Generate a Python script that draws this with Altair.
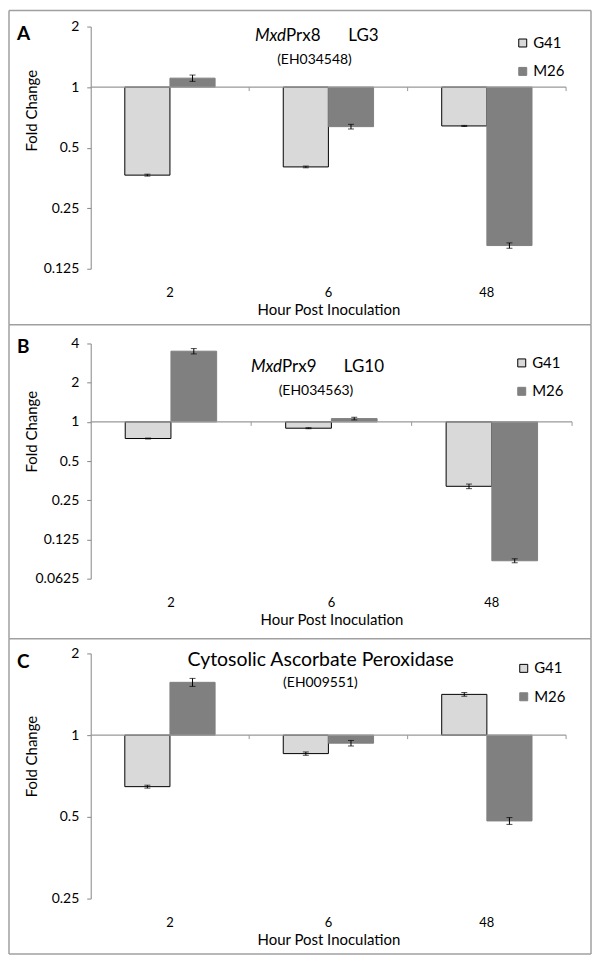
import math
import altair as alt
import pandas as pd

hours = ["2", "6", "48"]
lines = ["G41", "M26"]

# Panel A: MxdPrx8 LG3
a_g41 = [0.365, 0.401, 0.641]
a_m26 = [1.108, 0.636, 0.163]
a_g41_err = [0.004, 0.004, 0.004]
a_m26_err = [0.04, 0.017, 0.005]

# Panel B: MxdPrx9 LG10
b_g41 = [0.745, 0.894, 0.320]
b_m26 = [3.49, 1.06, 0.0858]
b_g41_err = [0.006, 0.008, 0.013]
b_m26_err = [0.165, 0.025, 0.003]

# Panel C: Cytosolic Ascorbate Peroxidase
c_g41 = [0.646, 0.855, 1.413]
c_m26 = [1.565, 0.934, 0.483]
c_g41_err = [0.008, 0.012, 0.022]
c_m26_err = [0.053, 0.022, 0.014]

a_ticks = [0.125, 0.25, 0.5, 1, 2]
b_ticks = [0.0625, 0.125, 0.25, 0.5, 1, 2, 4]
c_ticks = [0.25, 0.5, 1, 2]

FONT = "Lato"
FRAME = "#a0a0a0"
AXIS = "#868686"
one = pd.DataFrame({"k": [0]})


def txt(text, x, y, size, align="left", style="normal", weight="normal"):
    return alt.Chart(pd.DataFrame({"t": [text]})).mark_text(
        align=align, baseline="middle", fontSize=size, font=FONT,
        fontStyle=style, fontWeight=weight, color="black"
    ).encode(text="t:N", x=alt.value(x), y=alt.value(y))


def hline(x1, x2, y):
    return alt.Chart(one).mark_rule(color=FRAME, strokeWidth=1.5).encode(
        x=alt.value(x1), x2=alt.value(x2), y=alt.value(y))


def vline(x, y1, y2):
    return alt.Chart(one).mark_rule(color=FRAME, strokeWidth=1.5).encode(
        x=alt.value(x), y=alt.value(y1), y2=alt.value(y2))


def panel(g41, m26, g41e, m26e, w, h, dom, ticks, legxy, ytitle_y, texts,
          ftop, fbot, draw_top):
    df = pd.DataFrame({
        "hour": hours * 2,
        "line": ["G41"] * 3 + ["M26"] * 3,
        "fold": g41 + m26,
        "err": g41e + m26e,
    })
    df["lo"] = df["fold"] - df["err"]
    df["hi"] = df["fold"] + df["err"]

    xaxis = alt.Axis(title="Hour Post Inoculation", domain=False, ticks=False,
                     tickSize=0, labelPadding=18, labelAngle=0, labelFontSize=13,
                     titleFontSize=15, titlePadding=3, titleFontWeight="normal")
    xscale = alt.Scale(paddingInner=0, paddingOuter=0)

    def X():
        return alt.X("hour:N", sort=hours, scale=xscale, axis=xaxis)

    def XO():
        return alt.XOffset("line:N", sort=lines,
                           scale=alt.Scale(paddingOuter=0.755, paddingInner=0))

    yscale = alt.Scale(type="log", base=2, domain=dom, nice=False)
    yaxis = alt.Axis(values=ticks, format="~g", title="Fold Change", grid=False,
                     domainColor=AXIS, tickColor=AXIS, tickSize=4, labelPadding=8,
                     labelFontSize=14, titleFontSize=15, titleFontWeight="normal",
                     titleX=-59, titleY=ytitle_y, titleAngle=-90,
                     titleAlign="center", titleBaseline="middle")

    def Y(field):
        return alt.Y(f"{field}:Q", scale=yscale, axis=yaxis)

    legend = alt.Legend(title=None, orient="none", legendX=legxy[0], legendY=legxy[1],
                        symbolType="square", symbolSize=64, labelFontSize=15,
                        rowPadding=12.5, labelOffset=3, symbolStrokeWidth=1)

    bars = alt.Chart(df).mark_bar(strokeWidth=1).encode(
        x=X(), xOffset=XO(), y=Y("fold"), y2=alt.datum(1),
        color=alt.Color("line:N", scale=alt.Scale(domain=lines, range=["#d9d9d9", "#808080"]),
                        legend=legend),
        stroke=alt.Stroke("line:N", scale=alt.Scale(domain=lines, range=["#000000", "#808080"]),
                          legend=legend),
    )
    err = alt.Chart(df).mark_rule(color="black", strokeWidth=1).encode(
        x=X(), xOffset=XO(), y=Y("lo"), y2="hi:Q")
    cap_lo = alt.Chart(df).mark_tick(color="black", size=6, thickness=1,
                                     orient="horizontal").encode(
        x=X(), xOffset=XO(), y=Y("lo"))
    cap_hi = alt.Chart(df).mark_tick(color="black", size=6, thickness=1,
                                     orient="horizontal").encode(
        x=X(), xOffset=XO(), y=Y("hi"))

    base = alt.Chart(one).mark_rule(color="#999999", strokeWidth=1.2).encode(
        y=alt.datum(1), x=alt.value(0), x2=alt.value(w))
    one_px = math.log2(dom[1]) / math.log2(dom[1] / dom[0]) * h
    btick = alt.Chart(pd.DataFrame({"hour": hours})).mark_rule(
        color="#999999", strokeWidth=1).encode(
        x=alt.X("hour:N", sort=hours, scale=xscale, axis=xaxis, bandPosition=1),
        y=alt.value(one_px), y2=alt.value(one_px + 4))

    L, R = -82, 502
    frame = [vline(L, ftop, fbot), vline(R, ftop, fbot), hline(L, R, fbot)]
    if draw_top:
        frame.append(hline(L, R, ftop))

    return alt.layer(bars, err, cap_lo, cap_hi, base, btick, *texts, *frame).properties(
        width=w, height=h)


pa = panel(a_g41, a_m26, a_g41_err, a_m26_err, 477, 243, [0.125, 2], a_ticks,
           (426, 9), 84,
           [txt("A", -74, 7, 19, weight="bold"),
            txt("Mxd", 196, 9.5, 17, align="right", style="italic"),
            txt("Prx8", 196, 9.5, 17),
            txt("LG3", 258.5, 9.5, 17),
            txt("(EH034548)", 224.5, 33.5, 14, align="center")],
           -16, 299.25, True)

pb = panel(b_g41, b_m26, b_g41_err, b_m26_err, 483, 236, [0.0625, 4], b_ticks,
           (425, 12), 88,
           [txt("B", -74, 4, 19, weight="bold"),
            txt("Mxd", 192, 24, 17, align="right", style="italic"),
            txt("Prx9", 192, 24, 17),
            txt("LG10", 254, 24, 17),
            txt("(EH034563)", 226, 47.3, 14, align="center")],
           -18.75, 296.25, False)

pc = panel(c_g41, c_m26, c_g41_err, c_m26_err, 477, 246, [0.25, 2], c_ticks,
           (427, 7.5), 103,
           [txt("C", -74, 9, 19, weight="bold"),
            txt("Cytosolic Ascorbate Peroxidase", 230.75, 7, 19.5, align="center"),
            txt("(EH009551)", 230.5, 29.3, 14, align="center")],
           -14.75, 301.5, False)

chart = alt.vconcat(pa, pb, pc, spacing=75, bounds="flush").resolve_scale(
    color="independent", stroke="independent", xOffset="independent"
).resolve_legend(color="independent", stroke="independent").properties(
    padding=0
).configure_view(stroke=None).configure_axis(
    labelFont=FONT, titleFont=FONT, labelColor="black", titleColor="black"
).configure_legend(labelFont=FONT, labelColor="black")

chart.save("out.html", embed_options={"renderer": "svg", "actions": False})
